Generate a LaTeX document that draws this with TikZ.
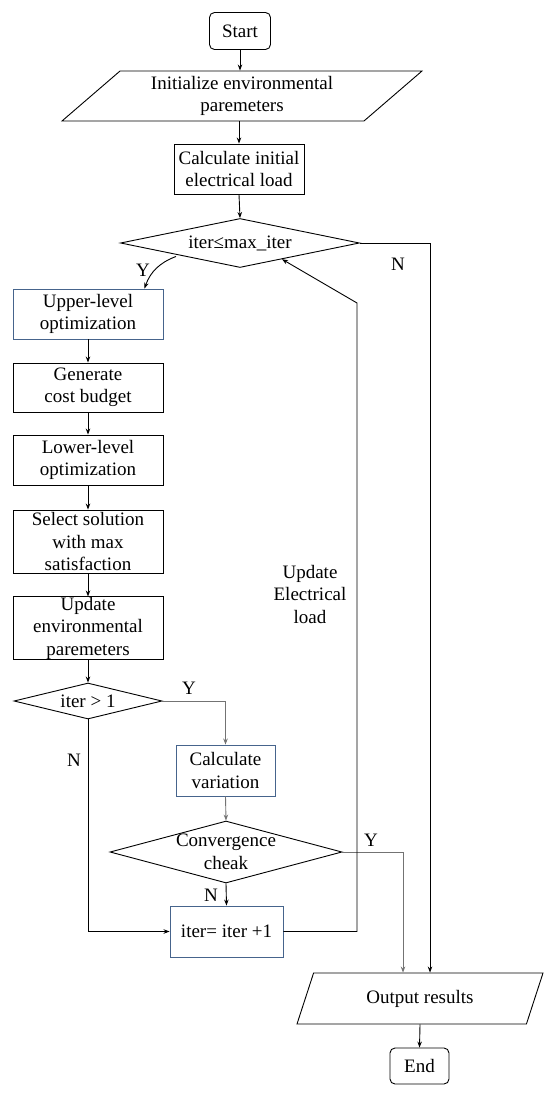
\documentclass[tikz,border=0pt]{standalone}
\usepackage{fontspec}
\setmainfont{Liberation Serif}
\usetikzlibrary{shapes.geometric,arrows.meta,calc}
\definecolor{boxblue}{RGB}{70,100,140}
\definecolor{linegray}{RGB}{115,115,115}

\begin{document}
\begin{tikzpicture}[x=1pt, y=-1pt, line width=0.9pt,
    font=\fontsize{19}{22.5}\selectfont,
    proc/.style={draw, rectangle, inner sep=0pt, align=center},
    term/.style={draw, rectangle, rounded corners=5pt, inner sep=0pt},
    io/.style={draw, trapezium, trapezium stretches body=true,
               inner sep=0pt, align=center},
    decide/.style={draw, diamond, inner sep=0pt},
    flow/.style={-{Stealth[length=6pt,width=4.5pt]}}]
  \useasboundingbox (0,0) rectangle (550,1097);

  % top of the chart
  \node[term, minimum width=61, minimum height=37] (start) at (240,31) {Start};
  \node[io, trapezium left angle=34.4, trapezium right angle=145.6,
        minimum width=360, minimum height=50]
    (init) at (242,96) {Initialize environmental\\paremeters};
  \node[proc, minimum width=130, minimum height=50]
    (load) at (239,169) {Calculate initial\\electrical load};
  \node[decide, minimum width=239, minimum height=49,
        label=center:{iter≤max\_iter}] (iterchk) at (240,243) {};

  % left column
  \node[proc, draw=boxblue, minimum width=150, minimum height=50]
    (upper) at (88,314) {Upper-level\\optimization};
  \node[proc, minimum width=150, minimum height=49]
    (budget) at (88,387.5) {Generate\\cost budget};
  \node[proc, minimum width=150, minimum height=50]
    (lower) at (88,460) {Lower-level\\optimization};
  \node[proc, minimum width=150, minimum height=63]
    (select) at (88,541.5) {Select solution\\with max\\satisfaction};
  \node[proc, minimum width=150, minimum height=62]
    (envup) at (88,628) {Update\\environmental\\paremeters};
  \node[decide, minimum width=148, minimum height=36,
        label=center:{iter > 1}] (firstchk) at (88,701) {};

  % middle column
  \node[proc, draw=boxblue, minimum width=99, minimum height=51]
    (variation) at (225.5,770.5) {Calculate\\variation};
  \node[decide, minimum width=232, minimum height=62,
        label={[align=center]center:Convergence\\cheak}] (conv) at (226,852) {};
  \node[proc, draw=boxblue, minimum width=113, minimum height=51]
    (incr) at (226.5,931.5) {iter= iter +1};

  % bottom
  \node[io, trapezium left angle=46.1, trapezium right angle=133.9,
        minimum width=246, minimum height=51]
    (output) at (420,998.5) {Output results};
  \node[term, minimum width=59, minimum height=36] (stop) at (419.5,1066) {End};

  % straight flow
  \draw[flow] (start.south) -- (start.south |- init.north);
  \draw[flow] (load.north |- init.south) -- (load.north);
  \draw[flow] (load.south) -- (iterchk.north);
  \foreach \a/\b in {upper/budget, budget/lower, lower/select,
                     select/envup, envup/firstchk}{
    \draw[flow] (\a.south) -- (\b.north);
  }
  \draw[flow] ($(iterchk.south west)+(-4,1)$) to[bend right=25]
    ($(upper.north east)+(-19,0)$);
  \draw[flow, linegray] (firstchk.east) -| (variation.north);
  \draw[flow, linegray] (variation.south) -- (conv.north);
  \draw[flow] (conv.south) -- (incr.north);
  \draw[flow] (firstchk.south) |- (incr.west);
  \draw[flow] (iterchk.east) -| ($(output.north)+(10,0)$);
  \draw[flow, linegray] (conv.east) -| ($(output.north)+(-17,0)$);
  \draw[flow] (output.south) -- (stop.north);

  % loop back
  \coordinate (loopturn) at (357,303);
  \draw[flow] (incr.east) -| (loopturn)
    -- ($(iterchk.south)!0.35!(iterchk.east)$);
  \node[align=center] (looplbl) at (310,594) {Update\\Electrical\\load};

  % branch labels
  \node (yes1) at (143,270) {Y};
  \node (no1) at (398,264) {N};
  \node (yes2) at (189,688) {Y};
  \node (no2) at (74,760) {N};
  \node (yes3) at (371,840) {Y};
  \node (no3) at (211,895) {N};
\end{tikzpicture}
\end{document}
